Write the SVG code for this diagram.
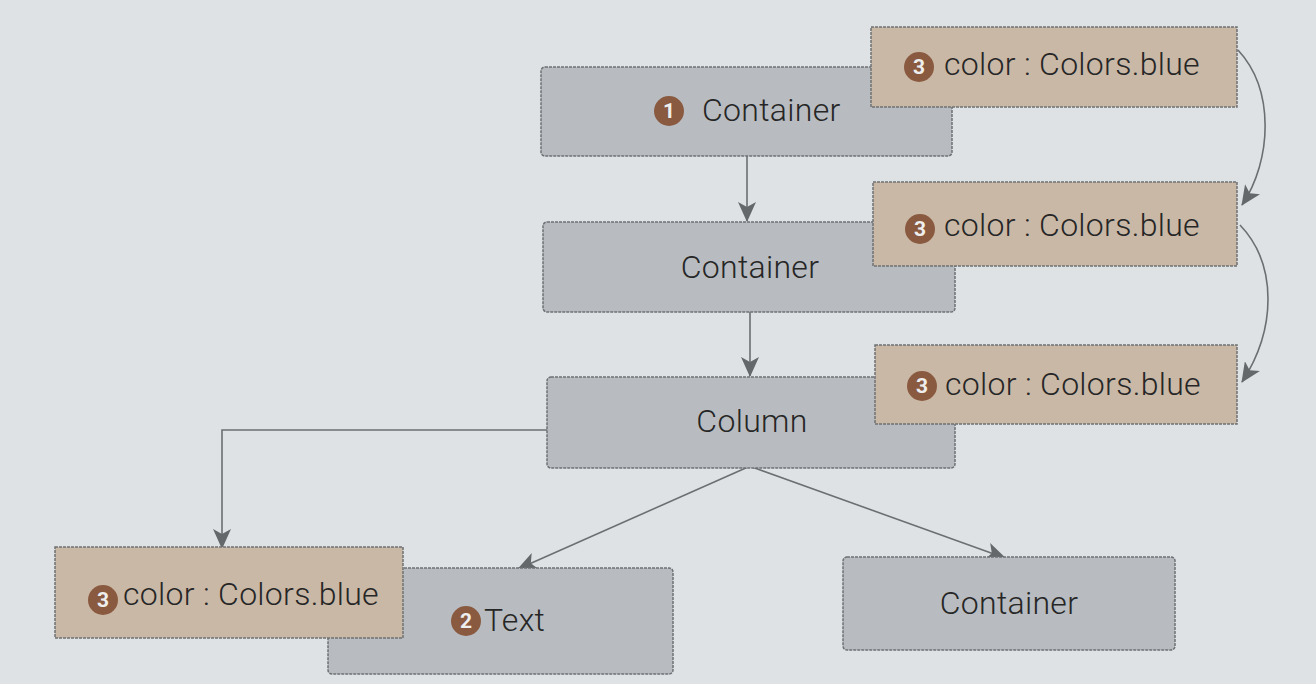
<svg xmlns="http://www.w3.org/2000/svg" width="1316" height="684" viewBox="0 0 1316 684">
<style>
.g{fill:#b8bcc0;stroke:#6e7174;stroke-width:1.5;stroke-dasharray:3 1}
.t{fill:#c9b8a6;stroke:#6e7174;stroke-width:1.5;stroke-dasharray:3 1}
.lbl{font-family:Roboto,"Liberation Sans",sans-serif;font-size:32px;font-weight:300;letter-spacing:0.3px;fill:#262626}
.bd{fill:#8a5a40}
.bn{font-family:Roboto,"Liberation Sans",sans-serif;font-size:21px;font-weight:bold;fill:#eee;text-anchor:middle}
.c{fill:none;stroke:#6c6f72;stroke-width:1.6}
</style>
<defs>
<marker id="ah" markerWidth="20" markerHeight="18" refX="19" refY="9" orient="auto" markerUnits="userSpaceOnUse">
<path d="M0,0 L20,9 L0,18 L5,9 Z" fill="#65686b"/>
</marker>
</defs>
<rect width="1316" height="684" fill="#dee2e5"/>
<g id="connectors">
<path class="c" d="M747,156 V221" marker-end="url(#ah)"/>
<path class="c" d="M750,312 V376" marker-end="url(#ah)"/>
<path class="c" d="M547,430 H222 V548" marker-end="url(#ah)"/>
<path class="c" d="M748,467 L518,569" marker-end="url(#ah)"/>
<path class="c" d="M752,467 L1005,558" marker-end="url(#ah)"/>
<path class="c" d="M1238,50 C1275,90 1272,160 1242,205" marker-end="url(#ah)"/>
<path class="c" d="M1240,225 C1278,265 1276,330 1242,382" marker-end="url(#ah)"/>
</g>
<g id="n1">
<rect class="g" x="541" y="67" width="411" height="89" rx="4"/>
<circle class="bd" cx="669" cy="111" r="15"/><text class="bn" x="669" y="118">1</text>
<text class="lbl" x="702" y="121">Container</text>
</g>
<g id="c1">
<rect class="t" x="871" y="27" width="366" height="80"/>
<circle class="bd" cx="919" cy="67" r="15"/><text class="bn" x="919" y="74">3</text>
<text class="lbl" x="944" y="75">color : Colors.blue</text>
</g>
<g id="n2">
<rect class="g" x="543" y="222" width="412" height="90" rx="4"/>
<text class="lbl" x="750" y="278" text-anchor="middle">Container</text>
</g>
<g id="c2">
<rect class="t" x="873" y="182" width="364" height="84"/>
<circle class="bd" cx="920" cy="229" r="15"/><text class="bn" x="920" y="236">3</text>
<text class="lbl" x="944" y="236">color : Colors.blue</text>
</g>
<g id="n3">
<rect class="g" x="547" y="377" width="408" height="91" rx="4"/>
<text class="lbl" x="752" y="432" text-anchor="middle">Column</text>
</g>
<g id="c3">
<rect class="t" x="875" y="345" width="362" height="79"/>
<circle class="bd" cx="922" cy="386" r="15"/><text class="bn" x="922" y="393">3</text>
<text class="lbl" x="945" y="395">color : Colors.blue</text>
</g>
<g id="n4">
<rect class="g" x="328" y="568" width="345" height="106" rx="4"/>
<circle class="bd" cx="466" cy="621" r="15"/><text class="bn" x="466" y="628">2</text>
<text class="lbl" x="484" y="631">Text</text>
</g>
<g id="c4">
<rect class="t" x="55" y="547" width="348" height="91"/>
<circle class="bd" cx="103" cy="600" r="15"/><text class="bn" x="103" y="607">3</text>
<text class="lbl" x="123" y="605">color : Colors.blue</text>
</g>
<g id="n5">
<rect class="g" x="843" y="557" width="332" height="93" rx="4"/>
<text class="lbl" x="1009" y="614" text-anchor="middle">Container</text>
</g>
</svg>
